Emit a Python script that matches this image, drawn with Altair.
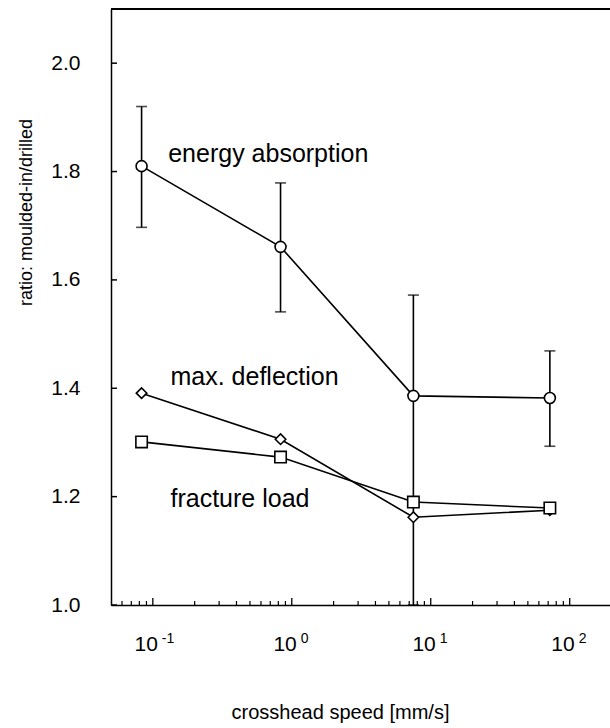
import altair as alt
import pandas as pd

# ---- data ----
speed = [0.083, 0.83, 7.5, 72]
energy = [1.810, 1.661, 1.386, 1.382]
energy_hi = [1.92, 1.779, 1.572, 1.469]
energy_lo = [1.697, 1.541, 1.0, 1.293]
deflection = [1.391, 1.306, 1.162, 1.175]
fracture = [1.301, 1.273, 1.190, 1.179]

label_text = ["energy absorption", "max. deflection", "fracture load"]
label_x = [0.129, 0.134, 0.134]
label_y = [1.817, 1.406, 1.181]

y_ticks = [1.0, 1.2, 1.4, 1.6, 1.8, 2.0]
x_major = [0.1, 1, 10, 100]
x_base = ["10", "10", "10", "10"]
x_sup = ["-1", "0", "1", "2"]
x_minor = [0.06, 0.07, 0.08, 0.09,
           0.2, 0.3, 0.4, 0.5, 0.6, 0.7, 0.8, 0.9,
           2, 3, 4, 5, 6, 7, 8, 9,
           20, 30, 40, 50, 60, 70, 80, 90]

W, H = 499, 596
FONT = "Liberation Sans"

df = pd.DataFrame({"speed": speed, "energy": energy, "hi": energy_hi, "lo": energy_lo,
                   "deflection": deflection, "fracture": fracture})
df_lab = pd.DataFrame({"t": label_text, "x": label_x, "y": label_y})
df_yt = pd.DataFrame({"v": y_ticks})
df_maj = pd.DataFrame({"v": x_major, "b": x_base, "s": x_sup})
df_min = pd.DataFrame({"v": x_minor})

xs = alt.Scale(type="log", domain=[0.05, 195])
ys = alt.Scale(domain=[1.0, 2.1])

x_axis = alt.Axis(labels=False, ticks=False, grid=False, domainColor="black", domainWidth=1.5,
                  title="crosshead speed [mm/s]", titleFont=FONT, titleFontSize=20,
                  titleFontWeight="normal", titleColor="black", titleX=229, titleY=113,
                  titleAlign="center", titleBaseline="alphabetic")
y_axis = alt.Axis(values=y_ticks, format=".1f", ticks=False, grid=False, domainColor="black",
                  domainWidth=1.5, labelFont=FONT, labelFontSize=21, labelColor="black",
                  labelPadding=31, title="ratio: moulded-in/drilled", titleFont=FONT,
                  titleFontSize=18, titleFontWeight="normal", titleColor="black",
                  titleAngle=270, titleX=-85, titleY=203, titleAlign="center",
                  titleBaseline="middle")

base = alt.Chart(df)

def X(f):
    return alt.X(f, scale=xs)

def Y(f):
    return alt.Y(f, scale=ys)

bars = base.mark_rule(color="black", strokeWidth=1.6).encode(
    x=alt.X("speed:Q", scale=xs, axis=x_axis),
    y=alt.Y("lo:Q", scale=ys, axis=y_axis),
    y2="hi:Q")
cap_hi = base.mark_tick(color="black", orient="horizontal", size=11, thickness=1.6).encode(
    x=X("speed:Q"), y=Y("hi:Q"))
cap_lo = base.mark_tick(color="black", orient="horizontal", size=11, thickness=1.6).encode(
    x=X("speed:Q"), y=Y("lo:Q"))

def series(field, shape, size):
    line = base.mark_line(color="black", strokeWidth=1.6).encode(
        x=X("speed:Q"), y=Y(f"{field}:Q"))
    pts = base.mark_point(shape=shape, size=size, filled=True, fill="white", stroke="black",
                          strokeWidth=1.6, opacity=1).encode(
        x=X("speed:Q"), y=Y(f"{field}:Q"))
    return line, pts

l1, p1 = series("energy", "circle", 120)
l2, p2 = series("deflection", "diamond", 110)
l3, p3 = series("fracture", "square", 130)

labels = alt.Chart(df_lab).mark_text(align="left", baseline="alphabetic", font=FONT,
                                     fontSize=25, color="black").encode(
    x=X("x:Q"), y=Y("y:Q"), text="t:N")

yt = alt.Chart(df_yt).mark_rule(color="black", strokeWidth=1.5).encode(
    x=alt.value(0), x2=alt.value(6), y=Y("v:Q"))
xmaj = alt.Chart(df_maj).mark_rule(color="black", strokeWidth=1.3).encode(
    x=X("v:Q"), y=alt.value(H), y2=alt.value(H - 7))
xmin = alt.Chart(df_min).mark_rule(color="black", strokeWidth=1.2).encode(
    x=X("v:Q"), y=alt.value(H), y2=alt.value(H - 4))
xlab = alt.Chart(df_maj).mark_text(align="right", baseline="alphabetic", font=FONT,
                                   fontSize=21, color="black", dx=5).encode(
    x=X("v:Q"), y=alt.value(H + 46), text="b:N")
xsup = alt.Chart(df_maj).mark_text(align="left", baseline="alphabetic", font=FONT,
                                   fontSize=14, color="black", dx=9).encode(
    x=X("v:Q"), y=alt.value(H + 38), text="s:N")
top = alt.Chart(df_yt).mark_rule(color="black", strokeWidth=1.5).encode(
    x=alt.value(0), x2=alt.value(W), y=alt.value(0))

chart = alt.layer(bars, cap_hi, cap_lo, l1, l2, l3, p1, p2, p3, labels,
                  yt, xmaj, xmin, xlab, xsup, top).properties(
    width=W, height=H,
    autosize=alt.AutoSizeParams(type="none"),
    padding={"left": 111, "top": 9, "right": 0, "bottom": 123},
).configure_view(stroke=None).configure(background="white")

chart.save("out.html", embed_options={"renderer": "svg", "actions": False})
